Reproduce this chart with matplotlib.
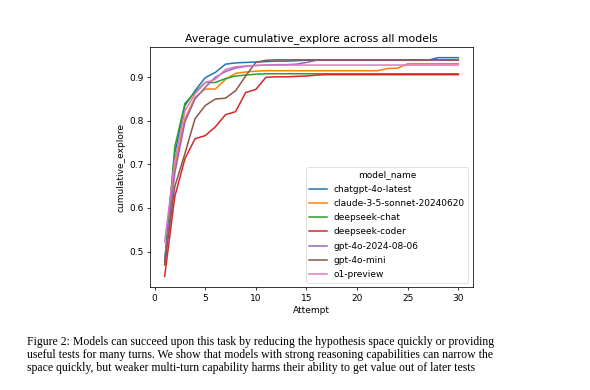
import numpy as np
import matplotlib.pyplot as plt

# data
attempts = np.arange(1, 31)

models = ["chatgpt-4o-latest", "claude-3-5-sonnet-20240620", "deepseek-chat",
          "deepseek-coder", "gpt-4o-2024-08-06", "gpt-4o-mini", "o1-preview"]

chatgpt_4o_latest = [0.478, 0.725, 0.835, 0.869, 0.899, 0.911, 0.930, 0.933, 0.934, 0.935,
                     0.936, 0.937, 0.937, 0.938, 0.939, 0.939, 0.939, 0.939, 0.939, 0.939,
                     0.939, 0.939, 0.939, 0.939, 0.939, 0.939, 0.939, 0.945, 0.945, 0.945]
claude_35_sonnet = [0.470, 0.694, 0.805, 0.854, 0.873, 0.873, 0.895, 0.909, 0.912, 0.914,
                    0.915, 0.915, 0.915, 0.915, 0.915, 0.915, 0.915, 0.915, 0.915, 0.915,
                    0.915, 0.915, 0.920, 0.921, 0.931, 0.931, 0.931, 0.931, 0.931, 0.931]
deepseek_chat = [0.470, 0.740, 0.840, 0.865, 0.888, 0.888, 0.897, 0.903, 0.905, 0.907,
                 0.908, 0.908, 0.908, 0.908, 0.908, 0.908, 0.908, 0.908, 0.908, 0.908,
                 0.908, 0.908, 0.908, 0.908, 0.908, 0.908, 0.908, 0.908, 0.908, 0.908]
deepseek_coder = [0.443, 0.626, 0.713, 0.759, 0.766, 0.786, 0.814, 0.821, 0.865, 0.872,
                  0.900, 0.901, 0.901, 0.902, 0.903, 0.905, 0.906, 0.906, 0.906, 0.906,
                  0.906, 0.906, 0.906, 0.906, 0.906, 0.906, 0.906, 0.906, 0.906, 0.906]
gpt_4o = [0.480, 0.680, 0.797, 0.850, 0.877, 0.900, 0.913, 0.921, 0.925, 0.927,
          0.928, 0.929, 0.929, 0.930, 0.934, 0.939, 0.939, 0.939, 0.939, 0.939,
          0.939, 0.939, 0.939, 0.939, 0.939, 0.939, 0.939, 0.939, 0.939, 0.939]
gpt_4o_mini = [0.470, 0.649, 0.725, 0.805, 0.835, 0.850, 0.852, 0.869, 0.903, 0.934,
               0.939, 0.940, 0.940, 0.940, 0.940, 0.940, 0.940, 0.940, 0.940, 0.940,
               0.940, 0.940, 0.940, 0.940, 0.940, 0.940, 0.940, 0.940, 0.940, 0.940]
o1_preview = [0.522, 0.709, 0.823, 0.862, 0.888, 0.895, 0.918, 0.924, 0.926, 0.927,
              0.928, 0.928, 0.928, 0.928, 0.928, 0.928, 0.928, 0.928, 0.928, 0.928,
              0.928, 0.928, 0.928, 0.928, 0.928, 0.928, 0.928, 0.928, 0.928, 0.928]

series = [chatgpt_4o_latest, claude_35_sonnet, deepseek_chat, deepseek_coder,
          gpt_4o, gpt_4o_mini, o1_preview]

caption = ["Figure 2: Models can succeed upon this task by reducing the hypothesis space quickly or providing",
           "useful tests for many turns. We show that models with strong reasoning capabilities can narrow the",
           "space quickly, but weaker multi-turn capability harms their ability to get value out of later tests"]

fig = plt.figure(figsize=(5.9, 3.9), dpi=100)
ax = fig.add_axes([0.2542, 0.2633, 0.5475, 0.6169])

colors = plt.rcParams['axes.prop_cycle'].by_key()['color']
for name, vals, c in zip(models, series, colors):
    ax.plot(attempts, vals, color=c, lw=1.1, label=name)

ax.set_title("Average cumulative_explore across all models", fontsize=7.8, pad=4)
ax.set_xlabel("Attempt", fontsize=6.5, labelpad=2.5)
ax.set_ylabel("cumulative_explore", fontsize=6.5, labelpad=2.5)
ax.set_xticks([0, 5, 10, 15, 20, 25, 30])
ax.set_yticks([0.5, 0.6, 0.7, 0.8, 0.9])
ax.tick_params(labelsize=6.5, length=2.3, width=0.55, pad=2.2)
for sp in ax.spines.values():
    sp.set_linewidth(0.55)

leg = ax.legend(title="model_name", loc="lower right", fontsize=6.5, title_fontsize=6.5,
                handlelength=1.9, labelspacing=0.58, borderpad=0.4)
leg.get_frame().set_linewidth(0.5)

ys = [0.123, 0.090, 0.057]
for line, y in zip(caption, ys):
    fig.text(0.046, y, line, fontsize=8.45, family="Liberation Serif", va="center", ha="left")

fig.savefig("out.png", dpi=100)
